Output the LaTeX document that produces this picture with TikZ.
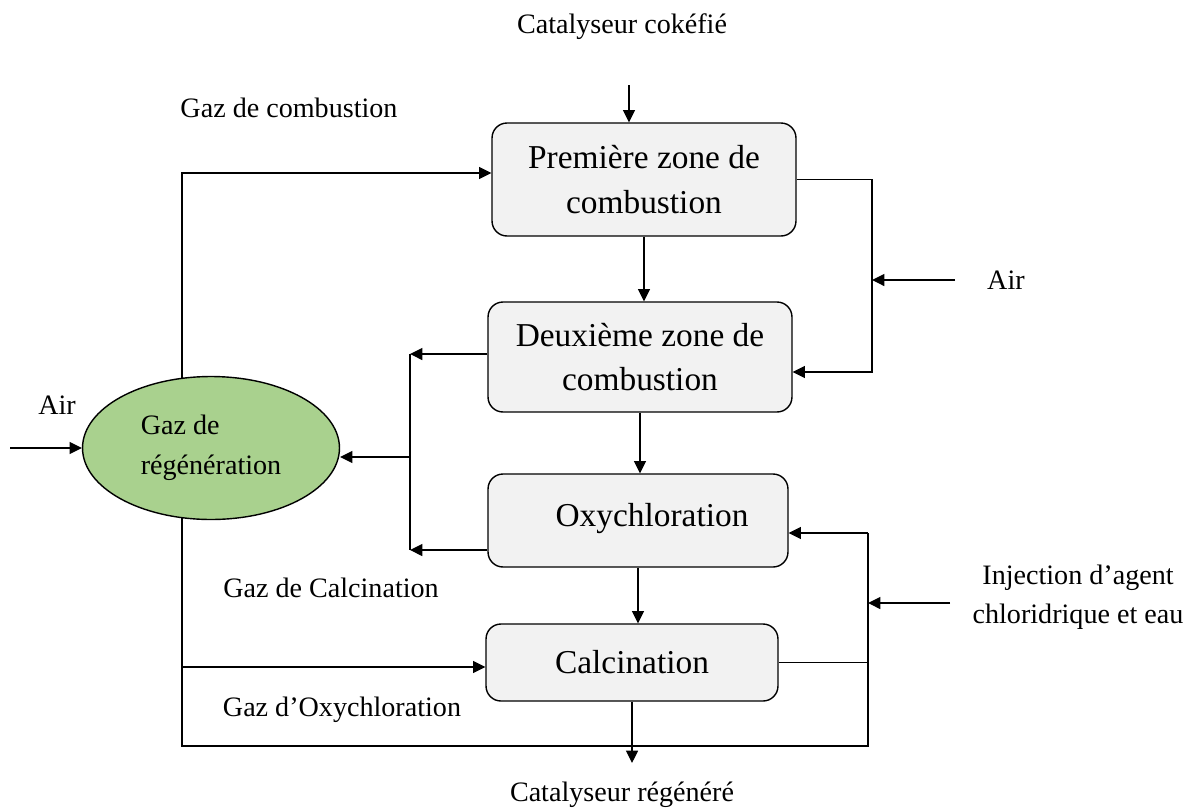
\documentclass[tikz,border=0pt]{standalone}
\usepackage{fontspec}
\setmainfont{Liberation Serif}
\usetikzlibrary{arrows.meta,positioning,shapes.geometric}
\definecolor{boxgray}{HTML}{F2F2F2}
\definecolor{gasgreen}{HTML}{A9D18E}
\tikzset{
    >={Triangle[length=7pt,width=6.8pt]},
    font=\fontsize{16}{22}\selectfont,
    zone/.style={rectangle,rounded corners=8.5pt,draw,line width=0.8pt,fill=boxgray,align=center,font=\fontsize{19}{25.5}\selectfont},
    gas/.style={ellipse,draw,line width=0.8pt,fill=gasgreen,align=left,inner sep=0pt,font=\fontsize{16}{23}\selectfont},
    flow/.style={->,line width=0.75pt},
    pipe/.style={line width=0.75pt}
}

\begin{document}
\begin{tikzpicture}[x=0.02cm,y=-0.02cm]
    \useasboundingbox (0,0) rectangle (1197,809);
    % zones
    \node[zone, minimum width=6.08cm, minimum height=2.26cm] (b1) at (644,179.5) {Première zone de\\combustion};
    \node[zone, minimum width=6.08cm, minimum height=2.2cm] (b2) at (640,357) {Deuxième zone de\\combustion};
    \node[zone, minimum width=6cm, minimum height=1.86cm] (b3) at (638,520.5) {\raisebox{6pt}{\hspace{16pt}Oxychloration}};
    \node[zone, minimum width=5.84cm, minimum height=1.54cm] (b4) at (632,662.5) {Calcination};
    \node[gas, minimum width=5.14cm, minimum height=2.86cm] (ell) at (211,448) {Gaz de\\régénération};
    % labels
    \node (cok) at (622,27) {Catalyseur cokéfié};
    \node (gcomb) at (289,108) {Gaz de combustion};
    \node (gcalc) at (331,588) {Gaz de Calcination};
    \node (goxy) at (342,710) {Gaz d’Oxychloration};
    \node (reg) at (622,795) {Catalyseur régénéré};
    \node (airL) at (57,405) {Air};
    \node (inj) [align=center] at (1078,597) {Injection d’agent\\chloridrique et eau};
    % corners
    \coordinate (cokin) at (629,85);
    \coordinate (regout) at (637,763);
    \coordinate (airRin) at (955,280);
    \coordinate (rbot) at (872,372);
    \coordinate (ltop) at (410,354);
    \coordinate (lmid) at (410,457);
    \coordinate (lbot) at (410,550);
    \coordinate (gtop) at (182,173);
    \coordinate (gcal) at (182,667);
    \coordinate (gbot) at (182,746);
    \coordinate (ibot) at (868,746);
    \coordinate (itop) at (868,533);
    \coordinate (injin) at (950,603);
    \coordinate (airLin) at (10,448);
    \node (airR) [right=0.52cm of airRin] {Air};
    % flows
    \draw[flow] (cokin) -- (cokin |- b1.north);
    \draw[flow] (b1.south) -- (b1.south |- b2.north);
    \draw[flow] (b2.south) -- (b2.south |- b3.north);
    \draw[flow] (b3.south) -- (b3.south |- b4.north);
    \draw[flow] (b4.south) -- (b4.south |- regout);
    \draw[flow] (b1.east) -| (rbot) -- (rbot -| b2.east);
    \draw[flow] (airRin) -- (airRin -| rbot);
    \draw[flow] (ltop -| b2.west) -- (ltop);
    \draw[flow] (lbot -| b3.west) -- (lbot);
    \draw[pipe] (ltop) -- (lbot);
    \draw[flow] (lmid) -- (lmid -| ell.east);
    \draw[flow] (airLin) -- (ell.west);
    \draw[flow] (gtop |- ell.112) -- (gtop) -- (gtop -| b1.west);
    \draw[pipe] (gbot |- ell.248) -- (gbot) -- (ibot) -- (itop);
    \draw[flow] (gcal) -- (gcal -| b4.west);
    \draw[flow] (itop) -- (itop -| b3.east);
    \draw[pipe] (b4.east) -- (b4.east -| ibot);
    \draw[flow] (injin) -- (injin -| ibot);
\end{tikzpicture}
\end{document}
